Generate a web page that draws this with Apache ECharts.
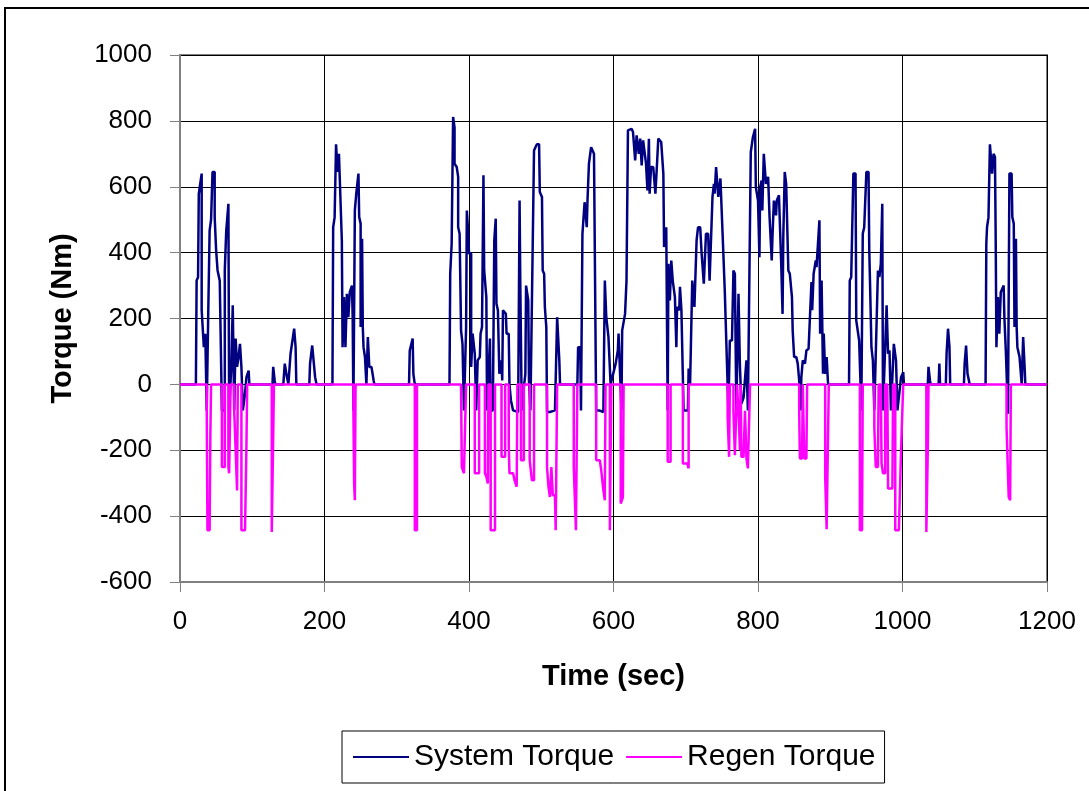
<!DOCTYPE html>
<html><head><meta charset="utf-8">
<script src="https://cdn.jsdelivr.net/npm/echarts@6/dist/echarts.min.js"></script>
<style>html,body{margin:0;padding:0;background:#fff}#c{width:1089px;height:791px}</style>
</head><body><div id="c"></div>
<script>
var xTicks = [0, 200, 400, 600, 800, 1000, 1200];
var yTicks = [-600, -400, -200, 0, 200, 400, 600, 800, 1000];
var seriesNames = ['System Torque', 'Regen Torque'];

var sysT = [0,22,23,25,26,30,30,33,35,37,39,41,43,45,48,48,50,52,55,58,62,62,64,67,68,71,73,75,77,79,81,83,85,87,90,92,95,96,
128,129,131,132,143,145,148,150,153,158,160,161,179,180,183,187,189,
211,212,214,216,218,220,222,224,225,227,229,231,233,235,238,239,240,242,244,247,248,250,250,252,253,254,256,258,260,262,265,268,269,
317,318,322,323,325,
373,374,376,378,380,380,383,385,385,387,389,391,393,396,397,399,400,403,403,405,407,408,410,412,415,416,418,420,421,424,425,429,430,433,435,437,438,440,442,445,446,447,451,452,455,456,458,461,468,470,471,473,475,478,479,482,483,485,490,492,494,497,498,501,502,504,505,507,508,512,519,522,525,526,
550,551,554,555,557,560,562,563,564,566,568,569,573,576,580,586,588,590,593,595,596,603,606,607,609,611,612,616,618,620,625,627,630,632,635,637,639,641,645,647,649,650,652,655,658,660,662,666,669,670,673,675,676,678,680,682,685,687,688,691,692,694,697,703,704,706,709,712,715,717,720,722,725,728,731,733,737,739,740,742,745,748,751,754,756,759,761,764,766,768,770,773,775,777,780,784,786,788,790,792,793,796,797,800,802,803,805,806,808,811,814,816,819,820,822,825,826,829,832,834,835,837,839,842,844,847,848,850,853,855,857,859,860,862,865,867,870,874,875,877,880,881,885,886,888,890,891,893,895,897,
926,927,929,932,935,936,940,943,945,947,950,953,954,955,957,959,961,963,966,968,970,972,973,978,980,982,984,988,991,993,996,998,1001,1002,
1035,1036,1038,1039,1050,1051,1052,1060,1061,1063,1065,1066,1085,1086,1088,1090,1093,
1115,1116,1117,1119,1121,1123,1124,1126,1128,1129,1130,1132,1134,1136,1140,1141,1143,1146,1148,1151,1152,1154,1155,1157,1158,1159,1162,1165,1167,1169,1170,1200];
var sysV = [0,0,315,325,578,640,225,113,154,-79,204,467,500,645,645,508,407,346,315,-79,-79,346,467,548,-79,53,240,-79,139,53,83,123,53,-79,-28,22,42,0,
0,53,12,0,0,63,22,0,93,169,113,0,0,63,118,22,0,
0,477,507,729,645,700,700,437,113,265,113,275,204,280,300,204,-79,528,580,640,508,488,174,442,174,113,83,0,144,53,53,12,0,
0,103,139,32,0,
0,336,427,812,780,670,660,630,477,457,164,123,-79,174,528,457,397,397,53,154,154,93,-79,73,83,154,174,635,346,265,-79,139,-79,-79,437,503,245,225,32,73,12,225,214,154,154,0,-48,-79,-84,558,306,-79,-28,32,300,255,12,-79,710,720,729,729,584,569,346,336,235,174,-84,-84,-79,204,73,0,
0,113,113,-79,457,553,558,477,558,670,665,720,700,-79,-79,-84,315,204,144,144,0,63,103,154,154,-79,164,214,315,771,776,766,680,756,700,746,665,741,670,589,746,579,660,660,579,660,746,736,640,417,477,-79,366,255,376,315,265,113,235,225,296,225,-79,-79,48,0,315,235,437,477,477,397,306,457,457,315,569,609,579,660,569,625,457,285,285,-79,133,133,346,336,-79,275,53,-59,-40,73,-79,-79,705,710,751,776,599,558,386,599,619,528,700,609,630,508,376,447,558,513,558,574,376,214,447,645,609,346,336,265,164,83,83,63,12,-79,22,73,63,103,108,311,225,336,376,356,498,154,315,32,154,32,83,0,
0,315,325,640,640,194,133,-79,457,477,645,645,407,315,113,73,-79,-79,346,326,366,548,-79,240,93,103,-79,123,73,-79,-18,22,37,0,
0,53,12,0,0,63,0,0,93,169,113,0,0,63,118,32,0,
0,427,477,507,729,729,640,700,690,437,113,265,154,280,300,204,103,-89,640,640,508,488,174,442,174,113,83,0,144,53,0,0];

var regT = [0,37,37,38,41,42,43,
58,58,62,62,67,67,68,70,70,75,75,77,79,80,80,85,85,90,92,93,
127,127,129,130,
240,240,241,242,243,
325,325,328,328,
389,390,393,396,
408,408,414,414,
422,422,424,426,427,
430,430,436,436,
445,445,450,450,
455,455,456,461,463,466,467,
472,472,476,476,
484,484,487,490,490,
508,508,510,512,514,516,519,520,522,522,
545,545,548,549,550,
576,576,581,583,586,588,589,
595,595,597,597,
610,610,613,614,
675,675,679,679,
696,696,702,704,704,
758,758,760,761,
766,766,768,770,771,773,773,775,776,777,780,782,784,786,788,789,
857,857,858,861,862,864,864,867,868,
893,893,895,897,898,
941,941,944,945,
961,961,963,966,967,970,971,973,976,976,979,980,986,987,990,990,995,998,1001,
1033,1033,1035,1036,
1144,1144,1147,1149,1150,
1200];
var regV = [0,0,-79,-443,-443,-160,0,
0,-251,-251,0,0,-251,-270,-270,0,0,-79,-200,-322,-322,0,0,-443,-443,-180,0,
0,-448,-160,0,
0,-79,-301,-352,0,
0,-443,-443,0,
0,-251,-270,0,
0,-270,-270,0,
0,-270,-280,-301,0,
0,-443,-443,0,
0,-220,-220,0,
0,-180,-270,-270,-291,-311,0,
0,-230,-230,0,
0,-230,-291,-291,0,
0,-251,-311,-342,-251,-337,-337,-443,-443,0,
0,-251,-443,-443,0,
0,-230,-230,-260,-322,-352,0,
0,-443,-443,0,
0,-362,-342,0,
0,-235,-235,0,
0,-240,-240,-255,0,
0,-100,-220,0,
0,-79,-215,-215,0,0,-80,-200,0,-220,-220,-80,-225,-255,-255,0,
0,-79,-225,-225,0,0,-225,-225,0,
0,-280,-440,-440,0,
0,-443,-443,0,
0,-130,-251,-251,0,0,-240,-270,-270,0,0,-316,-316,0,0,-443,-443,-200,0,
0,-448,-200,0,
0,-130,-342,-352,0,
0];

function pairs(t, v) { return t.map(function (x, i) { return [x, v[i]]; }); }

var FONT = '"Liberation Sans", Arial, sans-serif';
var chart = echarts.init(document.getElementById('c'), null, {renderer: 'canvas'});
chart.setOption({
  animation: false,
  backgroundColor: '#ffffff',
  textStyle: {fontFamily: FONT, color: '#000'},
  graphic: [{
    type: 'rect', shape: {x: 5, y: 8, width: 1100, height: 800},
    style: {fill: 'none', stroke: '#000', lineWidth: 2}, z: -1
  }],
  grid: {left: 180, top: 55, right: 42, bottom: 209, show: true, borderColor: '#808080', borderWidth: 2, backgroundColor: 'transparent'},
  legend: {
    data: seriesNames, left: 342, top: 731,
    orient: 'horizontal', icon: 'rect', itemWidth: 56, itemHeight: 2, itemGap: 12,
    borderColor: '#000', borderWidth: 1, padding: [11, 9, 11, 11],
    textStyle: {fontSize: 30, fontFamily: FONT, color: '#000'}
  },
  xAxis: {
    type: 'value', min: 0, max: 1200, interval: 200,
    name: 'Time (sec)', nameLocation: 'middle', nameGap: 80,
    nameTextStyle: {fontSize: 29, fontWeight: 'bold', fontFamily: FONT, color: '#000'},
    axisLine: {onZero: false, lineStyle: {color: '#808080', width: 2}},
    axisTick: {show: true, inside: false, length: 10, lineStyle: {color: '#808080'}},
    axisLabel: {fontSize: 26, color: '#000', margin: 27, fontFamily: FONT,
                formatter: function (v) { return String(v); }},
    splitLine: {show: true, lineStyle: {color: '#000', width: 1}}
  },
  yAxis: {
    type: 'value', min: -600, max: 1000, interval: 200,
    name: 'Torque (Nm)', nameLocation: 'middle', nameGap: 103,
    nameTextStyle: {fontSize: 29, fontWeight: 'bold', fontFamily: FONT, color: '#000'},
    axisLine: {show: true, lineStyle: {color: '#808080', width: 2}},
    axisTick: {show: true, inside: false, length: 10, lineStyle: {color: '#808080'}},
    axisLabel: {fontSize: 26, color: '#000', margin: 28, fontFamily: FONT,
                formatter: function (v) { return String(v); }},
    splitLine: {show: true, lineStyle: {color: '#000', width: 1}}
  },
  series: [
    {name: seriesNames[0], type: 'line', data: pairs(sysT, sysV), showSymbol: false, symbol: 'none',
     lineStyle: {color: '#000080', width: 2.5}, itemStyle: {color: '#000080'}, z: 2},
    {name: seriesNames[1], type: 'line', data: pairs(regT, regV), showSymbol: false, symbol: 'none',
     lineStyle: {color: '#ff00ff', width: 2.5}, itemStyle: {color: '#ff00ff'}, z: 3}
  ]
});
</script></body></html>
